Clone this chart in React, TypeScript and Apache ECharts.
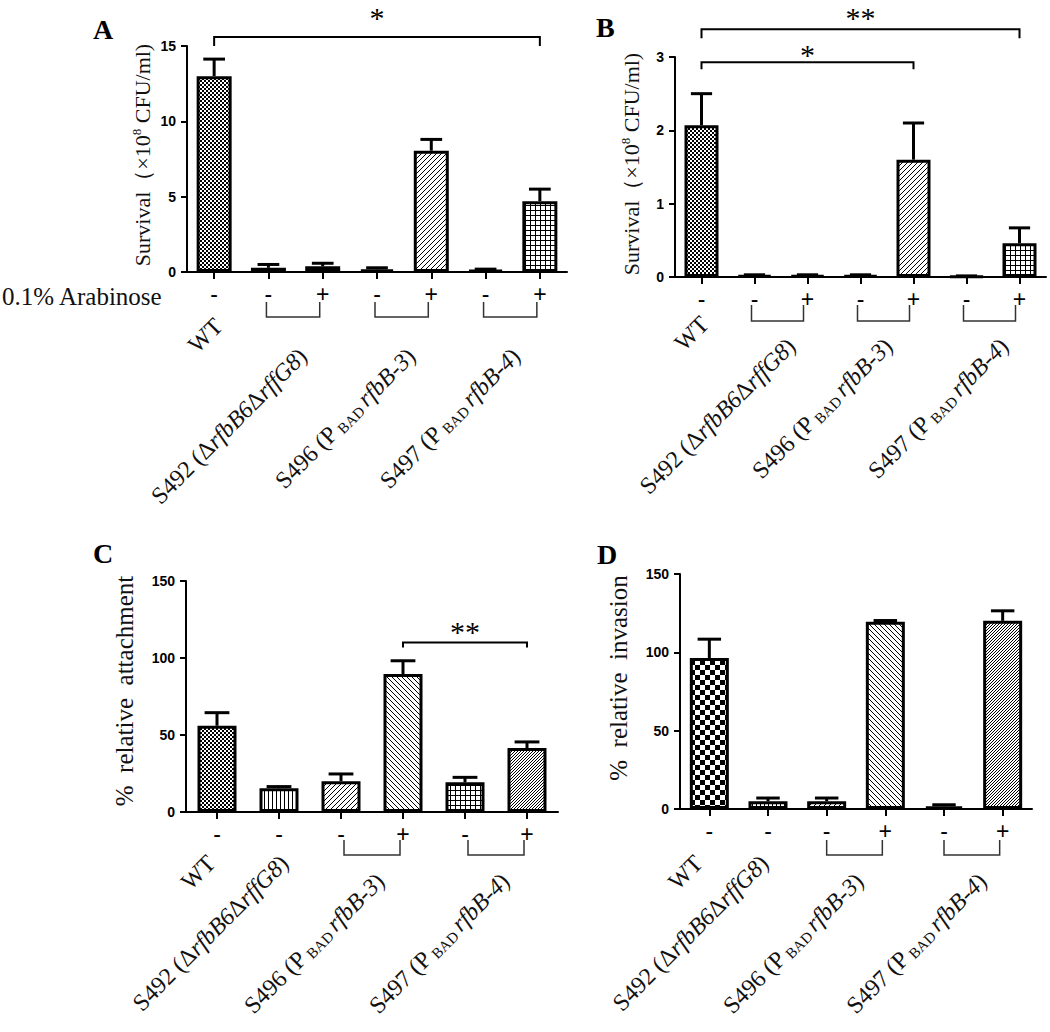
import React, { useEffect, useRef } from 'react';
import * as echarts from 'echarts';

// ---------------- data ----------------
const categoriesAB = ['WT', 'S492 -', 'S492 +', 'S496 -', 'S496 +', 'S497 -', 'S497 +'];
const arabinoseAB = ['-', '-', '+', '-', '+', '-', '+'];
const survivalA = [13.0, 0.28, 0.38, 0.18, 8.05, 0.12, 4.7];
const survivalAErr = [1.13, 0.22, 0.2, 0.1, 0.75, 0.07, 0.8];
const survivalB = [2.07, 0.02, 0.02, 0.02, 1.6, 0.01, 0.46];
const survivalBErr = [0.43, 0.01, 0.01, 0.01, 0.5, 0.005, 0.21];

const categoriesCD = ['WT', 'S492 -', 'S496 -', 'S496 +', 'S497 -', 'S497 +'];
const arabinoseCD = ['-', '-', '-', '+', '-', '+'];
const attachmentC = [56, 15.4, 20, 89.6, 19.3, 41.5];
const attachmentCErr = [8.5, 1.1, 4.7, 8.6, 3.2, 4];
const invasionD = [96.4, 4.9, 4.9, 119.5, 1.7, 120.1];
const invasionDErr = [12, 2.1, 2.1, 0.8, 1.0, 6.4];

const strainsAB = [
  { name: 'WT', cats: ['WT'] },
  { name: 'S492', cats: ['S492 -', 'S492 +'] },
  { name: 'S496', cats: ['S496 -', 'S496 +'] },
  { name: 'S497', cats: ['S497 -', 'S497 +'] },
];
const strainsCD = [
  { name: 'WT', cats: ['WT'] },
  { name: 'S492', cats: ['S492 -'] },
  { name: 'S496', cats: ['S496 -', 'S496 +'] },
  { name: 'S497', cats: ['S497 -', 'S497 +'] },
];
const strainText: Record<string, string> = {
  WT: '{n|WT}',
  S492: '{n|S492 (Δ}{i|rfbB6}{n|Δ}{i|rffG8}{n|)}',
  S496: '{n|S496 (P}{s|BAD}{i|rfbB-3}{n|)}',
  S497: '{n|S497 (P}{s|BAD}{i|rfbB-4}{n|)}',
};

const sigA = [{ from: 'WT', to: 'S497 +', level: 15.6, mark: '*' }];
const sigB = [
  { from: 'WT', to: 'S497 +', level: 3.38, mark: '**' },
  { from: 'WT', to: 'S496 +', level: 2.93, mark: '*' },
];
const sigC = [{ from: 'S496 +', to: 'S497 +', level: 110, mark: '**' }];
const sigD: { from: string; to: string; level: number; mark: string }[] = [];

const titleSurvival = '{n|Survival（×10}{sup|8}{n| CFU/ml)}';
const titleC = '{n|%\u00a0\u00a0relative\u00a0\u00a0attachment}';
const titleD = '{n|%\u00a0\u00a0relative\u00a0\u00a0invasion}';
const arabinoseLabel = '0.1% Arabinose';

// pattern keys per bar
const patA = ['checker', 'vlines', 'white', 'fwd', 'fwd', 'grid', 'grid'];
const patB = ['checker', 'vlines', 'white', 'fwd', 'fwd', 'grid', 'grid'];
const patC = ['checker', 'vlines', 'fwd', 'back', 'grid', 'fwdDense'];
const patD = ['checkerLarge', 'vlines', 'fwd', 'back', 'fwdDense', 'fwdDense'];

// ---------------- layout / style ----------------
const LAYOUT: any = {
  A: { grid: { left: 187, top: 46, width: 380, height: 226 }, barWidth: 35, letter: { x: 93, y: 29, t: 'A' }, title: { x: 142, y: 155, size: 22 }, single: 41, group: 71, dx: [-5, -2, -2, -6], br: { top: 30, bottom: 45, l: -2, r: -3 }, sigGap: [19], sigDrop: [9] },
  B: { grid: { left: 675, top: 57, width: 371, height: 220 }, barWidth: 34, letter: { x: 596, y: 27, t: 'B' }, title: { x: 631, y: 164, size: 22 }, single: 34, group: 56, dx: [-6, 1, -8, 2], br: { top: 28, bottom: 44, l: -3, r: -4 }, sigGap: [12, 8], sigDrop: [9, 7] },
  C: { grid: { left: 186, top: 581, width: 372, height: 231 }, barWidth: 39, letter: { x: 93, y: 553, t: 'C' }, title: { x: 124, y: 691, size: 25 }, single: 38, group: 56, dx: [-15, -4, -1, 0], br: { top: 28, bottom: 43, l: 3, r: -3 }, sigGap: [11], sigDrop: [5] },
  D: { grid: { left: 680, top: 574, width: 352, height: 235 }, barWidth: 39, letter: { x: 597, y: 554, t: 'D' }, title: { x: 618, y: 678, size: 25 }, single: 41, group: 59, dx: [-20, -13, -6, 0], br: { top: 31, bottom: 46, l: 0, r: -3 }, sigGap: [], sigDrop: [] },
};

const SERIF = 'Liberation Serif';
const SANS = 'Liberation Sans';

function makePatterns() {
  const mk = (w: number, h: number, draw: (g: CanvasRenderingContext2D) => void) => {
    const c = document.createElement('canvas');
    c.width = w;
    c.height = h;
    const g = c.getContext('2d')!;
    g.fillStyle = '#fff';
    g.fillRect(0, 0, w, h);
    g.fillStyle = '#000';
    draw(g);
    return { image: c, repeat: 'repeat' };
  };
  return {
    checker: mk(4, 4, (g) => { g.fillRect(0, 0, 2, 2); g.fillRect(2, 2, 2, 2); }),
    checkerLarge: mk(10, 10, (g) => { g.fillRect(0, 0, 5, 5); g.fillRect(5, 5, 5, 5); }),
    vlines: mk(4, 4, (g) => g.fillRect(0, 0, 1, 4)),
    white: '#ffffff',
    fwd: mk(5, 5, (g) => { for (let i = 0; i < 5; i++) g.fillRect(i, 4 - i, 1, 1); }),
    back: mk(5, 5, (g) => { for (let i = 0; i < 5; i++) g.fillRect(i, i, 1, 1); }),
    grid: mk(5, 5, (g) => { g.fillRect(0, 0, 5, 1); g.fillRect(0, 0, 1, 5); }),
    fwdDense: mk(3, 3, (g) => { for (let i = 0; i < 3; i++) g.fillRect(i, 2 - i, 1, 1); }),
  } as Record<string, any>;
}

export default function App() {
  const ref = useRef<HTMLDivElement>(null);
  useEffect(() => {
    const el = ref.current!;
    const chart = echarts.init(el, null, { renderer: 'svg', width: 1050, height: 1032 });
    const pats = makePatterns();

    const panels = [
      { L: LAYOUT.A, cats: categoriesAB, signs: arabinoseAB, values: survivalA, errors: survivalAErr, yMax: 15, yInterval: 5, pat: patA, sig: sigA, strains: strainsAB, title: titleSurvival, arab: true },
      { L: LAYOUT.B, cats: categoriesAB, signs: arabinoseAB, values: survivalB, errors: survivalBErr, yMax: 3, yInterval: 1, pat: patB, sig: sigB, strains: strainsAB, title: titleSurvival, arab: false },
      { L: LAYOUT.C, cats: categoriesCD, signs: arabinoseCD, values: attachmentC, errors: attachmentCErr, yMax: 150, yInterval: 50, pat: patC, sig: sigC, strains: strainsCD, title: titleC, arab: false },
      { L: LAYOUT.D, cats: categoriesCD, signs: arabinoseCD, values: invasionD, errors: invasionDErr, yMax: 150, yInterval: 50, pat: patD, sig: sigD, strains: strainsCD, title: titleD, arab: false },
    ];

    const option: any = {
      animation: false,
      backgroundColor: '#fff',
      textStyle: { fontFamily: SANS, color: '#000' },
      grid: panels.map((p) => ({ ...p.L.grid, containLabel: false, outerBoundsMode: 'none' })),
      xAxis: panels.map((p, k) => ({
        type: 'category',
        gridIndex: k,
        data: p.cats,
        axisLine: { show: true, lineStyle: { color: '#000', width: 2 } },
        axisTick: { show: true, alignWithLabel: true, length: 7, lineStyle: { color: '#000', width: 2 } },
        axisLabel: {
          interval: 0,
          margin: 10,
          fontSize: 23,
          color: '#000',
          fontFamily: SANS,
          formatter: (_v: string, i: number) => p.signs[i],
        },
        splitLine: { show: false },
      })),
      yAxis: panels.map((p, k) => ({
        type: 'value',
        gridIndex: k,
        min: 0,
        max: p.yMax,
        interval: p.yInterval,
        axisLine: { show: true, lineStyle: { color: '#000', width: 2 } },
        axisTick: { show: true, length: 6, lineStyle: { color: '#000', width: 2 } },
        splitLine: { show: false },
        axisLabel: { fontSize: 14, fontWeight: 'bold', color: '#000', fontFamily: SANS, margin: 11 },
      })),
      series: [
        ...panels.map((p, k) => ({
          type: 'bar',
          xAxisIndex: k,
          yAxisIndex: k,
          barWidth: p.L.barWidth,
          z: 2,
          itemStyle: { borderColor: '#000', borderWidth: 3 },
          data: p.values.map((v, i) => ({ value: v, itemStyle: { color: pats[p.pat[i]] } })),
        })),
        ...panels.map((p, k) => ({
          type: 'custom',
          xAxisIndex: k,
          yAxisIndex: k,
          z: 3,
          encode: { x: 0, y: [1, 2] },
          data: p.values.map((v, i) => [i, v, v + p.errors[i]]),
          renderItem: (_params: any, api: any) => {
            const idx = api.value(0);
            const base = api.coord([idx, api.value(1)]);
            const top = api.coord([idx, api.value(2)]);
            const hw = api.size([1, 0])[0] * 0.2;
            return {
              type: 'group',
              children: [
                { type: 'line', shape: { x1: base[0], y1: base[1], x2: top[0], y2: top[1] }, style: { stroke: '#000', lineWidth: 3 } },
                { type: 'line', shape: { x1: top[0] - hw, y1: top[1], x2: top[0] + hw, y2: top[1] }, style: { stroke: '#000', lineWidth: 3 } },
              ],
            };
          },
        })),
      ],
    };
    chart.setOption(option);

    const elements: any[] = [];
    panels.forEach((p, k) => {
      const L = p.L;
      const pt = (cat: string, val: number) => chart.convertToPixel({ gridIndex: k }, [p.cats.indexOf(cat), val]) as number[];
      const y0 = pt(p.cats[0], 0)[1];

      // panel letter
      elements.push({ type: 'text', x: L.letter.x, y: L.letter.y, style: { text: L.letter.t, fontSize: 28, fontWeight: 'bold', fontFamily: SERIF, fill: '#000', align: 'left', verticalAlign: 'middle' } });

      // y title
      elements.push({
        type: 'text', x: L.title.x, y: L.title.y, rotation: Math.PI / 2,
        style: {
          text: p.title, align: 'center', verticalAlign: 'middle', fill: '#111', fontFamily: SERIF, fontSize: L.title.size,
          rich: {
            n: { fontSize: L.title.size, fontFamily: SERIF, fill: '#111', lineHeight: L.title.size + 2 },
            sup: { fontSize: 13, fontFamily: SERIF, fill: '#111', verticalAlign: 'top' },
          },
        },
      });

      if (p.arab) {
        const yArab = y0 + 24;
        elements.push({ type: 'text', x: 2, y: yArab, style: { text: arabinoseLabel, fontSize: 25, fontFamily: SERIF, fill: '#111', align: 'left', verticalAlign: 'middle' } });
      }

      // significance brackets
      p.sig.forEach((s, j) => {
        const a = pt(s.from, s.level);
        const b = pt(s.to, s.level);
        const drop = L.sigDrop[j];
        elements.push({ type: 'polyline', shape: { points: [[a[0], a[1] + drop], [a[0], a[1]], [b[0], b[1]], [b[0], b[1] + drop]] }, style: { stroke: '#000', lineWidth: 2, fill: null } });
        elements.push({ type: 'text', x: (a[0] + b[0]) / 2, y: a[1] - L.sigGap[j], style: { text: s.mark, fontSize: 30, fontFamily: SERIF, fill: '#000', align: 'center', verticalAlign: 'middle' } });
      });

      // strain groups: brackets and rotated labels
      p.strains.forEach((g, gi) => {
        const xs = g.cats.map((c) => pt(c, 0)[0]);
        const cx = xs.reduce((s, v) => s + v, 0) / xs.length;
        if (g.cats.length > 1) {
          const xl = xs[0] + L.br.l;
          const xr = xs[xs.length - 1] + L.br.r;
          elements.push({ type: 'polyline', shape: { points: [[xl, y0 + L.br.top], [xl, y0 + L.br.bottom], [xr, y0 + L.br.bottom], [xr, y0 + L.br.top]] }, style: { stroke: '#333', lineWidth: 1.5, fill: null } });
        }
        const ly = y0 + (g.cats.length > 1 ? L.group : L.single);
        elements.push({
          type: 'text', x: cx + L.dx[gi], y: ly, rotation: Math.PI / 4,
          style: {
            text: strainText[g.name], align: 'right', verticalAlign: 'top', fill: '#111', fontFamily: SERIF, fontSize: 24,
            rich: {
              n: { fontSize: 24, fontFamily: SERIF, fill: '#111', lineHeight: 26 },
              i: { fontSize: 24, fontFamily: SERIF, fontStyle: 'italic', fill: '#111', lineHeight: 26 },
              s: { fontSize: 15, fontFamily: SERIF, fill: '#111', verticalAlign: 'bottom', padding: [0, 4, 0, 4] },
            },
          },
        });
      });
    });

    chart.setOption({ graphic: { elements } });
    return () => chart.dispose();
  }, []);
  return <div ref={ref} style={{ position: 'absolute', left: 0, top: 0, width: 1050, height: 1032, background: '#fff' }} />;
}
